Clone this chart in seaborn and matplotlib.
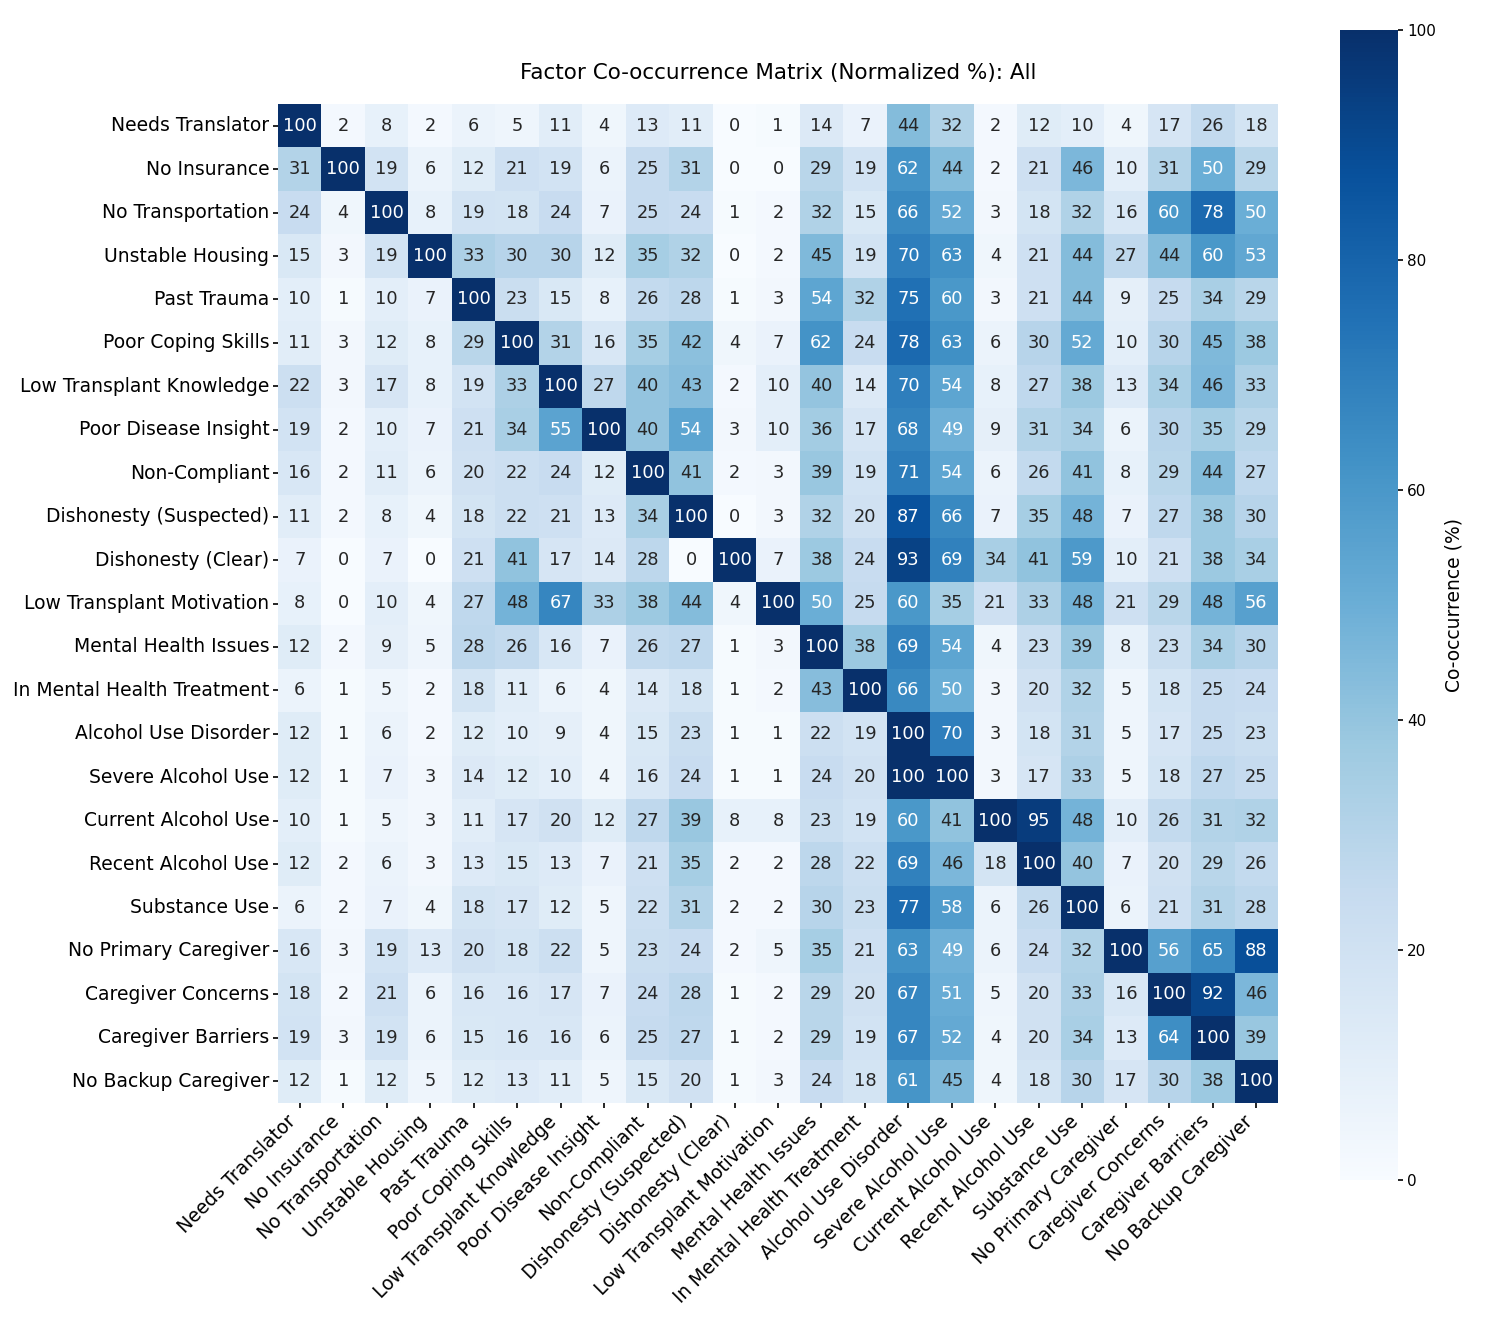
import numpy as np
import pandas as pd
import matplotlib
matplotlib.use("Agg")
import matplotlib.pyplot as plt
import seaborn as sns

labels = ["Needs Translator", "No Insurance", "No Transportation", "Unstable Housing",
          "Past Trauma", "Poor Coping Skills", "Low Transplant Knowledge",
          "Poor Disease Insight", "Non-Compliant", "Dishonesty (Suspected)",
          "Dishonesty (Clear)", "Low Transplant Motivation", "Mental Health Issues",
          "In Mental Health Treatment", "Alcohol Use Disorder", "Severe Alcohol Use",
          "Current Alcohol Use", "Recent Alcohol Use", "Substance Use",
          "No Primary Caregiver", "Caregiver Concerns", "Caregiver Barriers",
          "No Backup Caregiver"]

needs_translator = [100, 2, 8, 2, 6, 5, 11, 4, 13, 11, 0, 1, 14, 7, 44, 32, 2, 12, 10, 4, 17, 26, 18]
no_insurance = [31, 100, 19, 6, 12, 21, 19, 6, 25, 31, 0, 0, 29, 19, 62, 44, 2, 21, 46, 10, 31, 50, 29]
no_transportation = [24, 4, 100, 8, 19, 18, 24, 7, 25, 24, 1, 2, 32, 15, 66, 52, 3, 18, 32, 16, 60, 78, 50]
unstable_housing = [15, 3, 19, 100, 33, 30, 30, 12, 35, 32, 0, 2, 45, 19, 70, 63, 4, 21, 44, 27, 44, 60, 53]
past_trauma = [10, 1, 10, 7, 100, 23, 15, 8, 26, 28, 1, 3, 54, 32, 75, 60, 3, 21, 44, 9, 25, 34, 29]
poor_coping = [11, 3, 12, 8, 29, 100, 31, 16, 35, 42, 4, 7, 62, 24, 78, 63, 6, 30, 52, 10, 30, 45, 38]
low_knowledge = [22, 3, 17, 8, 19, 33, 100, 27, 40, 43, 2, 10, 40, 14, 70, 54, 8, 27, 38, 13, 34, 46, 33]
poor_insight = [19, 2, 10, 7, 21, 34, 55, 100, 40, 54, 3, 10, 36, 17, 68, 49, 9, 31, 34, 6, 30, 35, 29]
non_compliant = [16, 2, 11, 6, 20, 22, 24, 12, 100, 41, 2, 3, 39, 19, 71, 54, 6, 26, 41, 8, 29, 44, 27]
dishonesty_suspected = [11, 2, 8, 4, 18, 22, 21, 13, 34, 100, 0, 3, 32, 20, 87, 66, 7, 35, 48, 7, 27, 38, 30]
dishonesty_clear = [7, 0, 7, 0, 21, 41, 17, 14, 28, 0, 100, 7, 38, 24, 93, 69, 34, 41, 59, 10, 21, 38, 34]
low_motivation = [8, 0, 10, 4, 27, 48, 67, 33, 38, 44, 4, 100, 50, 25, 60, 35, 21, 33, 48, 21, 29, 48, 56]
mental_health = [12, 2, 9, 5, 28, 26, 16, 7, 26, 27, 1, 3, 100, 38, 69, 54, 4, 23, 39, 8, 23, 34, 30]
mh_treatment = [6, 1, 5, 2, 18, 11, 6, 4, 14, 18, 1, 2, 43, 100, 66, 50, 3, 20, 32, 5, 18, 25, 24]
alcohol_disorder = [12, 1, 6, 2, 12, 10, 9, 4, 15, 23, 1, 1, 22, 19, 100, 70, 3, 18, 31, 5, 17, 25, 23]
severe_alcohol = [12, 1, 7, 3, 14, 12, 10, 4, 16, 24, 1, 1, 24, 20, 100, 100, 3, 17, 33, 5, 18, 27, 25]
current_alcohol = [10, 1, 5, 3, 11, 17, 20, 12, 27, 39, 8, 8, 23, 19, 60, 41, 100, 95, 48, 10, 26, 31, 32]
recent_alcohol = [12, 2, 6, 3, 13, 15, 13, 7, 21, 35, 2, 2, 28, 22, 69, 46, 18, 100, 40, 7, 20, 29, 26]
substance_use = [6, 2, 7, 4, 18, 17, 12, 5, 22, 31, 2, 2, 30, 23, 77, 58, 6, 26, 100, 6, 21, 31, 28]
no_primary_caregiver = [16, 3, 19, 13, 20, 18, 22, 5, 23, 24, 2, 5, 35, 21, 63, 49, 6, 24, 32, 100, 56, 65, 88]
caregiver_concerns = [18, 2, 21, 6, 16, 16, 17, 7, 24, 28, 1, 2, 29, 20, 67, 51, 5, 20, 33, 16, 100, 92, 46]
caregiver_barriers = [19, 3, 19, 6, 15, 16, 16, 6, 25, 27, 1, 2, 29, 19, 67, 52, 4, 20, 34, 13, 64, 100, 39]
no_backup_caregiver = [12, 1, 12, 5, 12, 13, 11, 5, 15, 20, 1, 3, 24, 18, 61, 45, 4, 18, 30, 17, 30, 38, 100]

rows = [needs_translator, no_insurance, no_transportation, unstable_housing, past_trauma,
        poor_coping, low_knowledge, poor_insight, non_compliant, dishonesty_suspected,
        dishonesty_clear, low_motivation, mental_health, mh_treatment, alcohol_disorder,
        severe_alcohol, current_alcohol, recent_alcohol, substance_use,
        no_primary_caregiver, caregiver_concerns, caregiver_barriers, no_backup_caregiver]

df = pd.DataFrame(rows, index=labels, columns=labels)

W, H = 1494, 1325
dpi = 150
fig = plt.figure(figsize=(W / dpi, H / dpi), dpi=dpi)
ax = fig.add_axes([278 / W, (H - 1103) / H, 1000 / W, 999 / H])
cax = fig.add_axes([1340 / W, (H - 1180) / H, 58 / W, 1150 / H])

sns.heatmap(df, ax=ax, cbar_ax=cax, cmap="Blues", vmin=0, vmax=100,
            annot=True, fmt="d", annot_kws={"fontsize": 8.5},
            cbar_kws={"label": "Co-occurrence (%)"})

ax.set_title("Factor Co-occurrence Matrix (Normalized %): All", fontsize=10.3, pad=12)
ax.set_xticklabels(labels, rotation=45, ha="right", fontsize=9)
ax.set_yticklabels(labels, rotation=0, fontsize=9)
ax.tick_params(axis="both", length=2.2, pad=2)
cax.tick_params(labelsize=7.3, length=2.4, pad=2)
cax.yaxis.label.set_size(9)

fig.savefig("out.png", dpi=dpi)
